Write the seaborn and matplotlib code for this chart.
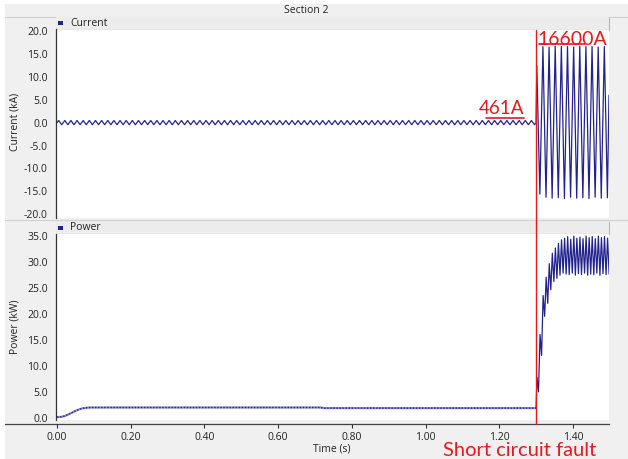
import numpy as np
import pandas as pd
import matplotlib
matplotlib.use("Agg")
import matplotlib.pyplot as plt
import seaborn as sns
from matplotlib.patches import Rectangle
from matplotlib.lines import Line2D

# ---------------- data ----------------
fault_time_s = 1.30
line_period_s = 1 / 60        # current oscillation period
ripple_period_s = 1 / 120     # power ripple period

# pre-fault current: peak magnitude of each cycle (kA)
pre_current_peak_kA = [
    0.46, 0.46, 0.46, 0.46, 0.46, 0.46, 0.46, 0.46, 0.46, 0.46, 0.46, 0.46, 0.46,
    0.46, 0.46, 0.46, 0.46, 0.46, 0.46, 0.46, 0.46, 0.46, 0.46, 0.46, 0.46, 0.46,
    0.46, 0.46, 0.46, 0.46, 0.46, 0.46, 0.46, 0.46, 0.46, 0.46, 0.46, 0.46, 0.46,
    0.46, 0.46, 0.46, 0.46, 0.46, 0.46, 0.46, 0.46, 0.46, 0.46, 0.46, 0.46, 0.46,
    0.46, 0.46, 0.46, 0.46, 0.46, 0.46, 0.46, 0.46, 0.46, 0.46, 0.46, 0.46, 0.46,
    0.46, 0.46, 0.46, 0.46, 0.46, 0.46, 0.46, 0.46, 0.46, 0.46, 0.46, 0.46, 0.46,
]
# post-fault current extrema per cycle (kA)
post_current_peaks_kA = [12.4, 16.6, 16.5, 16.7, 16.6, 16.6, 16.5, 16.7, 16.6, 16.6, 16.5, 16.6]
post_current_troughs_kA = [-15.6, -16.3, -16.5, -16.4, -16.6, -16.3, -16.5, -16.4, -16.6, -16.3, -16.5, -16.4]
post_current_end = (1.498, 6.0)

# pre-fault power (kW), smooth level
pre_power_t_s = [0.000, 0.010, 0.020, 0.030, 0.040, 0.050, 0.060, 0.070, 0.080, 0.090,
                 0.100, 0.400, 0.715, 0.725, 1.000, 1.300]
pre_power_kW = [0.15, 0.20, 0.35, 0.65, 1.00, 1.35, 1.65, 1.85, 1.95, 2.00,
                2.00, 2.00, 2.00, 1.88, 1.88, 1.88]
# post-fault power ripple extrema per cycle (kW)
post_power_tops_kW = [7.8, 16.0, 23.5, 27.0, 29.6, 31.6, 32.6, 33.5, 34.2, 34.5, 34.8, 34.3,
                      34.9, 34.5, 34.7, 34.4, 34.9, 34.6, 34.8, 34.4, 34.9, 34.6, 34.8, 34.5]
post_power_bottoms_kW = [5.0, 12.0, 19.5, 22.0, 24.6, 26.2, 26.8, 27.4, 27.8, 27.6, 27.5, 27.8,
                         27.4, 27.7, 27.5, 27.8, 27.4, 27.6, 27.5, 27.8, 27.4, 27.7, 27.5, 27.6]

current_ticks = [-20, -15, -10, -5, 0, 5, 10, 15, 20]
power_ticks = [0, 5, 10, 15, 20, 25, 30, 35]
time_ticks = [0.0, 0.2, 0.4, 0.6, 0.8, 1.0, 1.2, 1.4]

# ---------------- build series ----------------
n_pre = len(pre_current_peak_kA)
k = np.arange(n_pre)
pre_t = np.ravel(np.column_stack([(k + 0.25) * line_period_s, (k + 0.75) * line_period_s]))
pre_v = np.ravel(np.column_stack([pre_current_peak_kA, -np.array(pre_current_peak_kA)]))
n_post = len(post_current_peaks_kA)
kp = np.arange(n_post)
post_t = np.ravel(np.column_stack([fault_time_s + 0.002 + kp * line_period_s,
                                   fault_time_s + 0.002 + (kp + 0.5) * line_period_s]))
post_v = np.ravel(np.column_stack([post_current_peaks_kA, post_current_troughs_kA]))
cur_t = np.concatenate([[0.0], pre_t, [fault_time_s], post_t, [post_current_end[0]]])
cur_v = np.concatenate([[0.0], pre_v, [0.0], post_v, [post_current_end[1]]])
current_df = pd.DataFrame({"t": cur_t, "kA": cur_v})

n_rip = len(post_power_tops_kW)
kr = np.arange(n_rip)
rip_t = np.ravel(np.column_stack([fault_time_s + (kr + 0.3) * ripple_period_s,
                                  fault_time_s + (kr + 0.8) * ripple_period_s]))
rip_v = np.ravel(np.column_stack([post_power_tops_kW, post_power_bottoms_kW]))
post_power_df = pd.DataFrame({"t": np.concatenate([[pre_power_t_s[-1]], rip_t]),
                              "kW": np.concatenate([[pre_power_kW[-1]], rip_v])})
pre_power_df = pd.DataFrame({"t": pre_power_t_s, "kW": pre_power_kW})

# ---------------- figure ----------------
sns.set_theme(style="white")
plt.rcParams["font.family"] = ["Open Sans", "DejaVu Sans"]
plt.rcParams["axes.unicode_minus"] = False

W, H = 628, 459
fig = plt.figure(figsize=(W / 100, H / 100), dpi=100, facecolor="white")

def fx(px):
    return px / W

def fy(py):
    return 1 - py / H

def prect(x0, y0, x1, y1, **kw):
    fig.patches.append(Rectangle((fx(x0), fy(y1)), fx(x1) - fx(x0), fy(y0) - fy(y1),
                                 transform=fig.transFigure, **kw))

def pline(x0, y0, x1, y1, **kw):
    fig.lines.append(Line2D([fx(x0), fx(x1)], [fy(y0), fy(y1)], transform=fig.transFigure, **kw))

NAVY = "#23238e"
RED = "#e8191c"
GREY_TXT = "#222222"

# background panels
prect(5, 4, W, H, facecolor="#f0f0f0", edgecolor="none", zorder=-10)
pline(5, 16.5, W, 16.5, color="#d2d2d2", lw=0.8, zorder=-5)
# headers
for (y0, y1) in [(17, 29.5), (221.5, 234)]:
    prect(56, y0, 609, y1, facecolor="#ececec", edgecolor="none", zorder=-5)
    pline(56, y1, 609, y1, color="#a9a9a9", lw=0.8, zorder=-4)
    pline(609, y0, 609, y1, color="#b8b8b8", lw=0.8, zorder=-4)
pline(5, 220, W, 220, color="#d0d0d0", lw=0.8, zorder=-4)

ax_c = fig.add_axes([fx(56), fy(218), fx(609) - fx(56), fy(29.5) - fy(218)])
ax_p = fig.add_axes([fx(56), fy(420), fx(609) - fx(56), fy(234) - fy(420)])

xlim = (-0.003, 1.498)
for ax in (ax_c, ax_p):
    ax.set_facecolor("white")
    ax.set_xlim(*xlim)
    for s in ("top", "right", "bottom"):
        ax.spines[s].set_visible(False)
    ax.spines["left"].set_color("#333333")
    ax.spines["left"].set_linewidth(0.9)
    ax.tick_params(axis="y", direction="out", length=3, width=0.8, colors="#333333",
                   labelsize=7.5, pad=3, labelcolor=GREY_TXT)

sns.lineplot(data=current_df, x="t", y="kA", ax=ax_c, estimator=None, sort=False,
             color=NAVY, linewidth=0.9)
sns.lineplot(data=pre_power_df, x="t", y="kW", ax=ax_p, estimator=None, sort=False,
             color="#8c8cc8", linewidth=1.6)
sns.lineplot(data=pre_power_df, x="t", y="kW", ax=ax_p, estimator=None, sort=False,
             color=NAVY, linewidth=1.0, linestyle=(0, (1, 1.2)))
sns.lineplot(data=post_power_df, x="t", y="kW", ax=ax_p, estimator=None, sort=False,
             color=NAVY, linewidth=0.9)

ax_c.set_ylim(-20.83, 20.33)
ax_c.set_yticks(current_ticks, labels=[f"{v:.1f}" for v in current_ticks])
ax_p.set_ylim(-0.4, 35.3)
ax_p.set_yticks(power_ticks, labels=[f"{v:.1f}" for v in power_ticks])
for ax in (ax_c, ax_p):
    ax.set_xlabel("")
    ax.set_ylabel("")
ax_c.set_xticks([])

ax_p.spines["bottom"].set_visible(True)
ax_p.spines["bottom"].set_position(("outward", 2.9))
ax_p.spines["bottom"].set_color("#444444")
ax_p.spines["bottom"].set_linewidth(0.9)
ax_p.set_xticks(time_ticks, labels=[f"{v:.2f}" for v in time_ticks])
ax_p.tick_params(axis="x", direction="out", length=3, width=0.8, colors="#333333",
                 labelsize=7.5, pad=3, labelcolor=GREY_TXT, bottom=True)
pline(5, 424, 56, 424, color="#444444", lw=0.9)

# axis titles
fig.text(fx(15), fy(122), "Current (kA)", rotation=90, ha="center", va="center",
         fontsize=7.5, color=GREY_TXT)
fig.text(fx(15), fy(327), "Power (kW)", rotation=90, ha="center", va="center",
         fontsize=7.5, color=GREY_TXT)
fig.text(fx(332), fy(449), "Time (s)", ha="center", va="center", fontsize=7.5, color=GREY_TXT)
fig.text(fx(306), fy(10.5), "Section 2", ha="center", va="center", fontsize=7.5, color=GREY_TXT)

# header legends
for (yc, name) in [(23, "Current"), (228, "Power")]:
    prect(58, yc - 2, 62.5, yc + 2, facecolor=NAVY, edgecolor="none", zorder=2)
    fig.text(fx(70), fy(yc), name, ha="left", va="center", fontsize=7.5, color=GREY_TXT)

# fault marker line across both panels
x_fault = fig.transFigure.inverted().transform(ax_p.transData.transform((fault_time_s, 0)))[0]
fig.lines.append(Line2D([x_fault, x_fault], [fy(29.5), fy(424)], transform=fig.transFigure,
                        color=RED, lw=1.0, zorder=5))

# annotations
ax_c.text(1.145, 1.9, "461A", color=RED, fontsize=13.5, family=["Lato", "DejaVu Sans"],
          ha="left", va="baseline")
ax_c.plot([1.164, 1.267], [0.95, 0.95], color=RED, lw=1.2)
ax_c.text(1.303, 16.9, "16600A", color=RED, fontsize=14, family=["Lato", "DejaVu Sans"],
          ha="left", va="baseline", clip_on=False)
ax_c.plot([1.3077, 1.4324], [17.2, 17.2], color=RED, lw=1.2)
fig.text(fx(443), fy(456), "Short circuit fault", color=RED, fontsize=14.5,
         family=["Lato", "DejaVu Sans"], ha="left", va="baseline")

fig.savefig("out.png", dpi=100, facecolor=fig.get_facecolor())
